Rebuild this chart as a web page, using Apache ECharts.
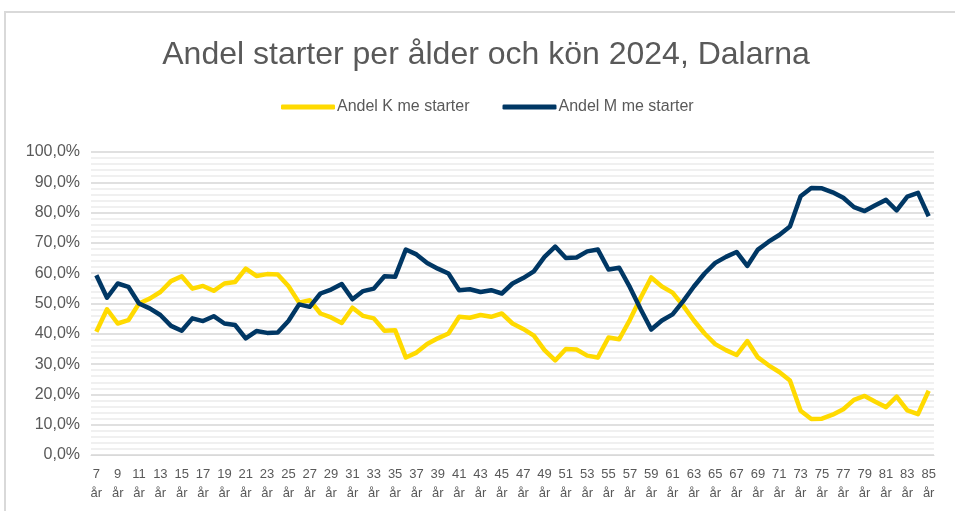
<!DOCTYPE html>
<html>
<head>
<meta charset="utf-8">
<title>Andel starter per ålder och kön 2024, Dalarna</title>
<script src="https://cdn.jsdelivr.net/npm/echarts@6/dist/echarts.min.js"></script>
<style>
  html, body { margin: 0; padding: 0; background: #fff; }
  #chart { width: 955px; height: 511px; }
</style>
</head>
<body>
<div id="chart"></div>
<script>
// ålder 7 - 85 år
var ages = [];
for (var a = 7; a <= 85; a++) ages.push(a + '\når');

// andel kvinnor (%)
var andelK = [
  40.7, 48.1, 43.4, 44.5, 50.0, 51.6, 53.8, 57.4, 59.0, 54.9,
  55.8, 54.2, 56.6, 57.1, 61.5, 59.1, 59.7, 59.6, 55.8, 50.3,
  51.1, 46.7, 45.4, 43.6, 48.6, 45.9, 45.1, 41.0, 41.2, 32.2,
  33.8, 36.6, 38.5, 40.1, 45.6, 45.3, 46.2, 45.6, 46.7, 43.4,
  41.6, 39.4, 34.6, 31.2, 35.0, 34.8, 32.8, 32.2, 38.8, 38.2,
  44.6, 51.8, 58.6, 55.6, 53.6, 49.2, 44.4, 40.1, 36.6, 34.6,
  33.0, 37.6, 32.2, 29.6, 27.4, 24.6, 14.6, 11.9, 12.0, 13.3,
  15.1, 18.2, 19.5, 17.6, 15.8, 19.3, 14.7, 13.5, 21.2
];

// andel män (%)
var andelM = [
  59.3, 51.9, 56.6, 55.5, 50.0, 48.4, 46.2, 42.6, 41.0, 45.1,
  44.2, 45.8, 43.4, 42.9, 38.5, 40.9, 40.3, 40.4, 44.2, 49.7,
  48.9, 53.3, 54.6, 56.4, 51.4, 54.1, 54.9, 59.0, 58.8, 67.8,
  66.2, 63.4, 61.5, 59.9, 54.4, 54.7, 53.8, 54.4, 53.3, 56.6,
  58.4, 60.6, 65.4, 68.8, 65.0, 65.2, 67.2, 67.8, 61.2, 61.8,
  55.4, 48.2, 41.4, 44.4, 46.4, 50.8, 55.6, 59.9, 63.4, 65.4,
  67.0, 62.4, 67.8, 70.4, 72.6, 75.4, 85.4, 88.1, 88.0, 86.7,
  84.9, 81.8, 80.5, 82.4, 84.2, 80.7, 85.3, 86.5, 78.8
];

var textColor = '#595959';
var font = 'Liberation Sans, Arial, sans-serif';

var myChart = echarts.init(document.getElementById('chart'));

var option = {
  backgroundColor: '#fff',
  animation: false,
  textStyle: { fontFamily: font },
  // ramen runt diagrammet
  graphic: [{
    type: 'rect',
    shape: { x: 5, y: 12, width: 1000, height: 600 },
    style: { fill: 'none', stroke: '#d9d9d9', lineWidth: 2 },
    silent: true
  }],
  title: {
    text: 'Andel starter per ålder och kön 2024, Dalarna',
    left: 481,
    textAlign: 'center',
    top: 34,
    textStyle: { fontSize: 32, fontWeight: 'normal', color: textColor, fontFamily: font }
  },
  legend: {
    top: 94,
    left: 276,
    itemWidth: 54,
    itemHeight: 5,
    itemGap: 33,
    icon: 'roundRect',
    textStyle: { fontSize: 16, color: textColor, padding: [0, 0, 0, -3] },
    data: ['Andel K me starter', 'Andel M me starter']
  },
  grid: { left: 91, right: 21, top: 152, bottom: 56 },
  xAxis: {
    type: 'category',
    data: ages,
    boundaryGap: true,
    axisLine: { show: true, lineStyle: { color: '#d9d9d9', width: 1 } },
    axisTick: { show: false },
    axisLabel: {
      interval: 1,
      color: textColor,
      fontSize: 13,
      lineHeight: 19,
      margin: 10
    }
  },
  yAxis: {
    type: 'value',
    min: 0,
    max: 100,
    interval: 10,
    axisLine: { show: false },
    axisTick: { show: false },
    axisLabel: {
      color: textColor,
      fontSize: 16,
      margin: 11,
      formatter: function (v) { return v.toFixed(1).replace('.', ',') + '%'; }
    },
    splitLine: { show: true, lineStyle: { color: '#d6d6d6', width: 1.5 } },
    minorTick: { show: false, splitNumber: 5 },
    minorSplitLine: { show: true, lineStyle: { color: '#ececec', width: 1.5 } }
  },
  series: [
    {
      name: 'Andel K me starter',
      type: 'line',
      data: andelK,
      symbol: 'none',
      lineStyle: { color: '#FFDA00', width: 4.5, join: 'round' },
      itemStyle: { color: '#FFDA00' }
    },
    {
      name: 'Andel M me starter',
      type: 'line',
      data: andelM,
      symbol: 'none',
      lineStyle: { color: '#003764', width: 4.5, join: 'round' },
      itemStyle: { color: '#003764' }
    }
  ]
};

myChart.setOption(option);
</script>
</body>
</html>
